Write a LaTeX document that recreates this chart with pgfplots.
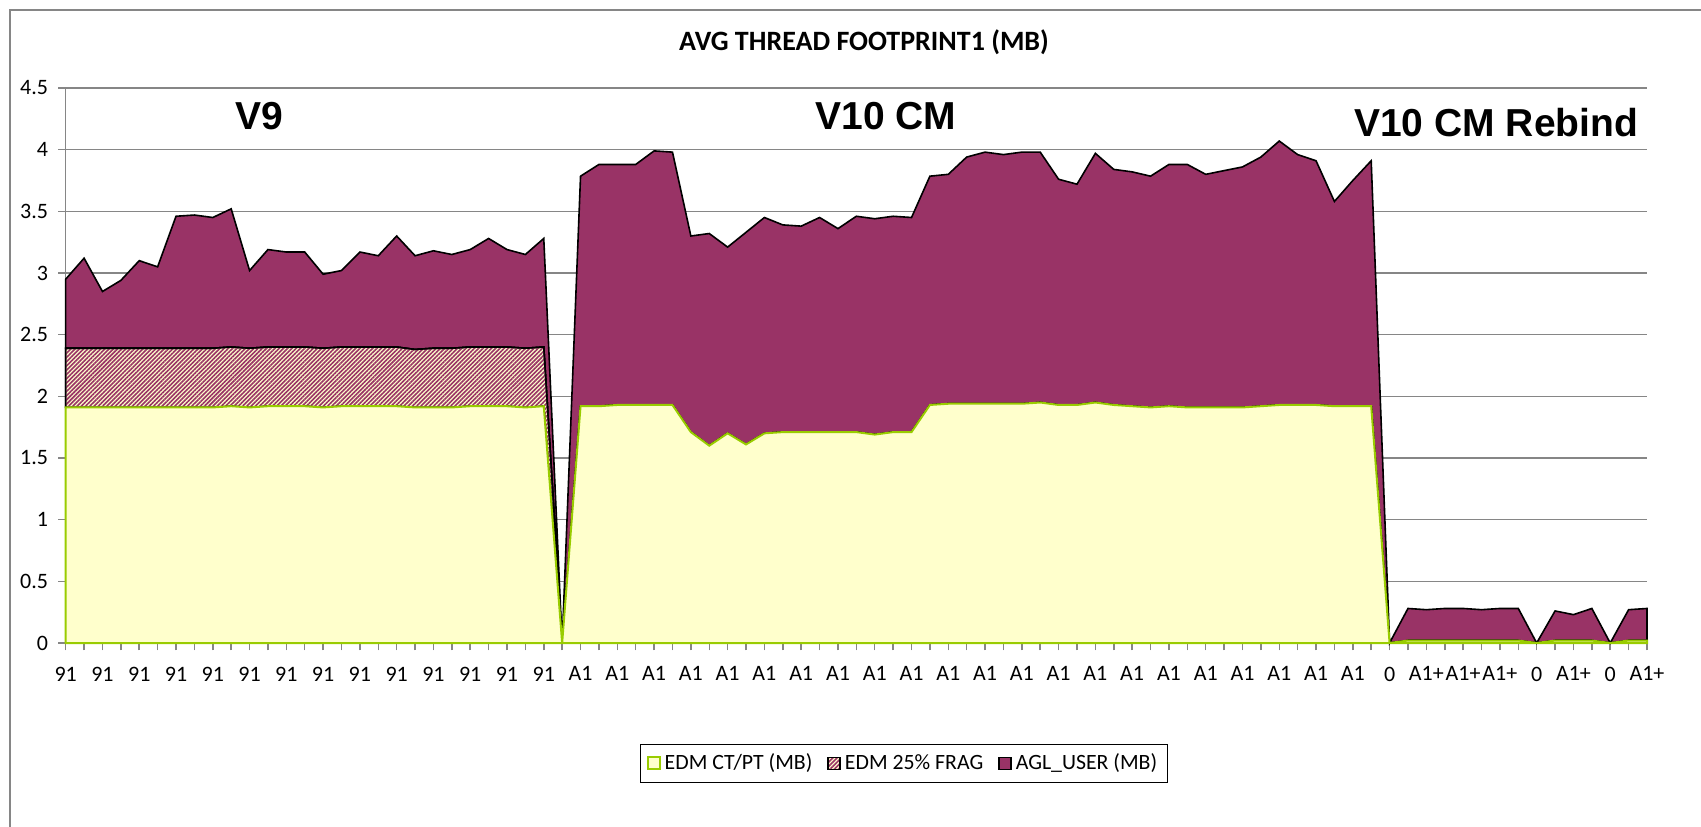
\documentclass[border=0pt]{standalone}
\usepackage{fontspec}
\setmainfont{Carlito}
\newfontfamily\vfont{Liberation Sans}
\usepackage{pgfplots}
\pgfplotsset{compat=1.18}
\usepackage{pgfplotstable}
\usetikzlibrary{patterns.meta}

\definecolor{edmyel}{HTML}{FFFFCC}
\definecolor{edmgrn}{HTML}{99CC00}
\definecolor{aglpur}{HTML}{993366}
\definecolor{gridgr}{HTML}{868686}

% x = sample index, ct = EDM CT/PT, frag = EDM 25% FRAG, agl = AGL_USER (all MB)
\pgfplotstableread{
x  ct   frag agl
0  1.91 0.48 0.56
1  1.91 0.48 0.73
2  1.91 0.48 0.46
3  1.91 0.48 0.55
4  1.91 0.48 0.71
5  1.91 0.48 0.66
6  1.91 0.48 1.07
7  1.91 0.48 1.08
8  1.91 0.48 1.06
9  1.92 0.48 1.12
10 1.91 0.48 0.63
11 1.92 0.48 0.79
12 1.92 0.48 0.77
13 1.92 0.48 0.77
14 1.91 0.48 0.60
15 1.92 0.48 0.62
16 1.92 0.48 0.77
17 1.92 0.48 0.74
18 1.92 0.48 0.90
19 1.91 0.47 0.76
20 1.91 0.48 0.79
21 1.91 0.48 0.76
22 1.92 0.48 0.79
23 1.92 0.48 0.88
24 1.92 0.48 0.79
25 1.91 0.48 0.76
26 1.92 0.48 0.88
27 0    0    0
28 1.92 0 1.865
29 1.92 0 1.96
30 1.93 0 1.95
31 1.93 0 1.95
32 1.93 0 2.06
33 1.93 0 2.05
34 1.71 0 1.59
35 1.60 0 1.72
36 1.70 0 1.51
37 1.61 0 1.72
38 1.70 0 1.75
39 1.71 0 1.68
40 1.71 0 1.67
41 1.71 0 1.74
42 1.71 0 1.65
43 1.71 0 1.75
44 1.69 0 1.75
45 1.71 0 1.75
46 1.71 0 1.74
47 1.93 0 1.855
48 1.94 0 1.86
49 1.94 0 2.00
50 1.94 0 2.04
51 1.94 0 2.02
52 1.94 0 2.04
53 1.95 0 2.03
54 1.93 0 1.83
55 1.93 0 1.79
56 1.95 0 2.02
57 1.93 0 1.91
58 1.92 0 1.90
59 1.91 0 1.875
60 1.92 0 1.96
61 1.91 0 1.97
62 1.91 0 1.89
63 1.91 0 1.92
64 1.91 0 1.95
65 1.92 0 2.02
66 1.93 0 2.14
67 1.93 0 2.03
68 1.93 0 1.98
69 1.92 0 1.66
70 1.92 0 1.83
71 1.92 0 1.99
72 0    0 0
73 0.02 0 0.26
74 0.02 0 0.25
75 0.02 0 0.26
76 0.02 0 0.26
77 0.02 0 0.25
78 0.02 0 0.26
79 0.02 0 0.26
80 0    0 0
81 0.02 0 0.24
82 0.02 0 0.21
83 0.02 0 0.26
84 0    0 0
85 0.02 0 0.25
86 0.02 0 0.26
}\footprint

\begin{document}
\begin{tikzpicture}
\path[use as bounding box] (-32.85bp,-92bp) rectangle (817.65bp,321.5bp);
\begin{axis}[
  anchor=south west, at={(0,0)},
  scale only axis, width=790.65bp, height=277.5bp,
  xmin=0, xmax=86, ymin=0, ymax=4.5,
  clip=false,
  stack plots=y,
  axis lines=left,
  axis line style={-, draw=gridgr, line width=0.75bp},
  ymajorgrids,
  major grid style={draw=gridgr, line width=0.75bp},
  tick align=outside,
  tick style={draw=gridgr, line width=0.75bp},
  major tick length=3.7bp, minor tick length=3.7bp,
  xtick={0,2,...,86},
  minor xtick={1,3,...,85},
  xticklabels={91,91,91,91,91,91,91,91,91,91,91,91,91,91,
    A1,A1,A1,A1,A1,A1,A1,A1,A1,A1,A1,A1,A1,A1,A1,A1,A1,A1,A1,A1,A1,A1,
    0,A1+,A1+,A1+,0,A1+,0,A1+},
  ytick={0,0.5,1,1.5,2,2.5,3,3.5,4,4.5},
  /pgf/number format/assume math mode=true,
  tick label style={font=\fontsize{11bp}{13bp}\selectfont, inner sep=0pt},
  yticklabel style={anchor=east, xshift=-4.9bp},
  xticklabel style={anchor=north, yshift=-8bp},
  legend columns=-1,
  legend style={at={(0.5301,-0.2171)}, anchor=center, draw=black,
    line width=0.5bp, inner xsep=3bp, inner ysep=3bp,
    font=\fontsize{10.9bp}{13bp}\selectfont,
    /tikz/every even column/.append style={column sep=5.5bp}},
  legend image code/.code={\draw[#1] (0bp,-3bp) rectangle (6bp,3bp);},
]
\addplot[fill=edmyel, draw=edmgrn, line width=1bp]
  table[x=x, y=ct] {\footprint} \closedcycle;
\addlegendentry{EDM CT/PT (MB)}
\addplot[fill=edmyel, draw=black, line width=0.8bp,
  postaction={pattern={Lines[angle=45,distance=1.5bp,line width=0.8bp]}, pattern color=aglpur}]
  table[x=x, y=frag] {\footprint} \closedcycle;
\addlegendentry{EDM 25\% FRAG}
\addplot[fill=aglpur, draw=black, line width=0.8bp]
  table[x=x, y=agl] {\footprint} \closedcycle;
\addlegendentry{AGL\_USER (MB)}

\node[anchor=base, font=\bfseries\fontsize{14bp}{16bp}\selectfont]
  at (axis cs:43.42,4.803) {AVG THREAD FOOTPRINT1 (MB)};
\node[anchor=base, font=\vfont\bfseries\fontsize{19.5bp}{22bp}\selectfont]
  at (axis cs:10.51,4.165) {V9};
\node[anchor=base, font=\vfont\bfseries\fontsize{19.5bp}{22bp}\selectfont]
  at (axis cs:44.6,4.163) {V10 CM};
\node[anchor=base, font=\vfont\bfseries\fontsize{19.5bp}{22bp}\selectfont]
  at (axis cs:77.8,4.11) {V10 CM Rebind};
\end{axis}
\draw[gridgr, line width=0.75bp] (-27.85bp,-92bp) -- (-27.85bp,316.5bp) -- (817.65bp,316.5bp);
\end{tikzpicture}
\end{document}
